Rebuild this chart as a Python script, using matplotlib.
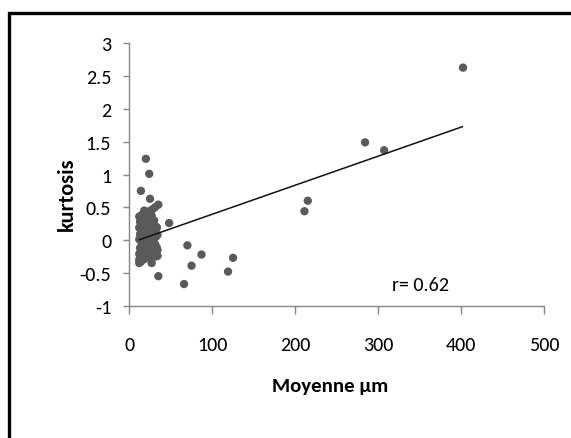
import matplotlib
matplotlib.use("Agg")
import matplotlib.pyplot as plt
from matplotlib.patches import Rectangle
import numpy as np

# valeurs (moyenne en µm, kurtosis)
moyenne_isoles = [402, 284, 307, 215, 211, 125, 119, 87, 75, 70, 66, 48,
                  35, 35, 20, 24, 14, 25, 27, 12]
kurtosis_isoles = [2.63, 1.49, 1.37, 0.60, 0.44, -0.27, -0.48, -0.22, -0.39,
                   -0.08, -0.67, 0.26, -0.55, 0.54, 1.24, 1.01, 0.75, 0.63,
                   -0.35, -0.35]

# nuage dense des petites moyennes
moyenne_nuage = [12, 12, 13, 12, 13, 12, 13, 12,
                 14, 15, 14, 15, 14, 15, 14, 15,
                 16, 17, 16, 17, 16, 17, 16, 17,
                 18, 19, 18, 19, 18, 19, 18,
                 20, 21, 20, 21, 20, 21, 20, 21,
                 22, 23, 22, 23, 22, 23,
                 24, 25, 24, 25, 24, 25, 24,
                 26, 27, 26, 27, 26, 27,
                 28, 29, 28, 29, 28,
                 30, 31, 30, 31, 30,
                 32, 33, 32, 33, 31,
                 34, 34, 33, 34]
kurtosis_nuage = [-0.30, -0.21, -0.12, 0.01, 0.09, 0.19, 0.28, 0.36,
                  -0.33, -0.24, -0.16, -0.04, 0.06, 0.16, 0.24, 0.38,
                  -0.27, -0.17, -0.09, 0.03, 0.11, 0.22, 0.31, 0.41,
                  -0.29, -0.13, 0.00, 0.08, 0.18, 0.29, 0.45,
                  -0.25, -0.15, -0.06, 0.05, 0.14, 0.26, 0.34, 0.40,
                  -0.20, -0.11, 0.01, 0.10, 0.21, 0.33,
                  -0.27, -0.16, -0.03, 0.12, 0.20, 0.31, 0.44,
                  -0.18, -0.06, 0.07, 0.17, 0.27, 0.37,
                  -0.12, 0.00, 0.14, 0.24, 0.47,
                  -0.21, -0.06, 0.10, 0.20, 0.30,
                  -0.25, -0.11, 0.05, 0.18, 0.50,
                  -0.15, 0.08, 0.20, -0.24]

# droite de régression
pente = 0.00443
ordonnee = -0.0485
x_droite = [12.3, 401.3]

x_ticks = [0, 100, 200, 300, 400, 500]
y_ticks = [-1, -0.5, 0, 0.5, 1, 1.5, 2, 2.5, 3]
y_labels = ["-1", "-0.5", "0", "0.5", "1", "1.5", "2", "2.5", "3"]

police = ["Carlito", "DejaVu Sans"]
gris_axes = "#868686"
gris_points = "#5a5a5a"

fig = plt.figure(figsize=(5.71, 4.39), dpi=100)
fig.patches.append(Rectangle((0.0158, -0.05), 1.1, 0.05 + 0.968,
                             transform=fig.transFigure, fill=False,
                             edgecolor="black", linewidth=2.4))
ax = fig.add_axes([0.2264, 0.3014, 0.7270, 0.5976])

x_tous = moyenne_isoles + moyenne_nuage
y_tous = kurtosis_isoles + kurtosis_nuage
ax.scatter(x_tous, y_tous, s=36, color=gris_points, edgecolors="none", zorder=3)
xd = np.array(x_droite)
ax.plot(xd, pente * xd + ordonnee, color="#111111", linewidth=1.1, zorder=4)

ax.set_xlim(0, 500)
ax.set_ylim(-1, 3)
ax.set_xticks(x_ticks)
ax.set_yticks(y_ticks)
ax.set_xticklabels([str(t) for t in x_ticks], family=police, fontsize=14.5)
ax.set_yticklabels(y_labels, family=police, fontsize=14.5)
ax.tick_params(axis="x", direction="out", length=6, width=1, color=gris_axes, pad=16)
ax.tick_params(axis="y", direction="out", length=4, width=1, color=gris_axes, pad=9)

for cote in ["top", "right"]:
    ax.spines[cote].set_visible(False)
for cote in ["left", "bottom"]:
    ax.spines[cote].set_color(gris_axes)
    ax.spines[cote].set_linewidth(1)

ax.set_ylabel("kurtosis", family=police, fontweight="bold", fontsize=16)
ax.yaxis.set_label_coords(-0.127, 0.43)
ax.set_xlabel("Moyenne µm", family=police, fontweight="bold", fontsize=15)
ax.xaxis.set_label_coords(0.483, -0.272)

ax.text(316, -0.67, "r= 0.62", family=police, fontsize=14.5, va="center", ha="left")

fig.savefig("out.png", dpi=100)
